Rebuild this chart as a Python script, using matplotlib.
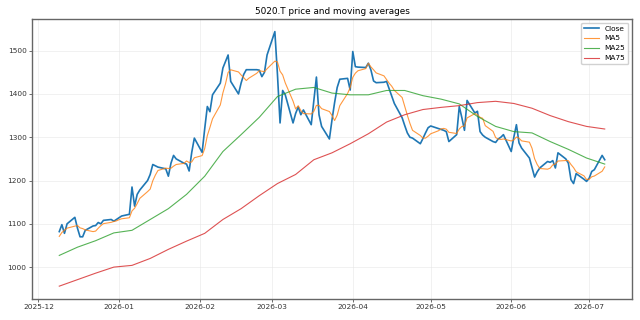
import matplotlib
matplotlib.use("Agg")
import matplotlib.pyplot as plt
import matplotlib.dates as mdates
import pandas as pd

# Daily closes, business days 2025-12-09 .. 2026-07-07
close_dec = [1082, 1098, 1078, 1100, 1115, 1090, 1070, 1070, 1085, 1095,
             1096, 1103, 1100, 1108, 1110, 1106, 1110]
close_jan = [1114, 1118, 1122, 1185, 1141, 1168, 1178, 1200, 1214, 1237,
             1234, 1231, 1227, 1210, 1240, 1258, 1250, 1240, 1238, 1222,
             1265, 1298]
close_feb = [1265, 1320, 1371, 1359, 1398, 1425, 1460, 1475, 1490, 1429,
             1400, 1425, 1445, 1456, 1456, 1456, 1455, 1440, 1450, 1490]
close_mar = [1544, 1445, 1333, 1408, 1398, 1333, 1355, 1370, 1352, 1363,
             1329, 1385, 1439, 1352, 1325, 1296, 1340, 1380, 1415, 1434,
             1436, 1409]
close_apr = [1498, 1463, 1462, 1461, 1471, 1455, 1430, 1426, 1427, 1429,
             1412, 1395, 1378, 1345, 1327, 1310, 1300, 1298, 1285, 1297,
             1310, 1322]
close_may = [1326, 1320, 1318, 1316, 1313, 1290, 1306, 1371, 1345, 1316,
             1385, 1356, 1360, 1313, 1305, 1300, 1290, 1288, 1296, 1300,
             1306]
close_jun = [1267, 1300, 1329, 1287, 1275, 1252, 1230, 1208, 1220, 1229,
             1244, 1242, 1246, 1229, 1264, 1250, 1240, 1202, 1193, 1216,
             1203, 1198]
close_jul = [1205, 1221, 1225, 1258, 1248]

# MA5 for the first four days (earlier closes are not shown on the chart)
ma5_head = [1071, 1080, 1085, 1090]

# MA25 / MA75 read every 5th trading day
ma25 = [1027, 1046, 1061, 1079, 1085, 1110, 1135, 1168, 1210, 1267,
        1306, 1346, 1394, 1411, 1415, 1402, 1398, 1398, 1408, 1408,
        1396, 1388, 1377, 1348, 1325, 1313, 1310, 1290, 1272, 1252,
        1238]
ma75 = [956, 971, 986, 1000, 1004, 1020, 1041, 1060, 1078, 1110,
        1135, 1165, 1193, 1214, 1248, 1264, 1285, 1308, 1335, 1352,
        1364, 1369, 1373, 1380, 1383, 1378, 1367, 1350, 1336, 1325,
        1319]

dates = pd.bdate_range("2025-12-09", "2026-07-07")
close = pd.Series(close_dec + close_jan + close_feb + close_mar + close_apr
                  + close_may + close_jun + close_jul, index=dates, dtype=float)
ma5 = close.rolling(5).mean()
ma5.iloc[:4] = ma5_head
ma_dates = dates[::5]

fig = plt.figure(figsize=(6.4, 3.2), dpi=100)
ax = fig.add_axes([0.05, 0.066, 0.9375, 0.875])

ax.plot(dates, close, color="#1f77b4", lw=1.2, label="Close")
ax.plot(dates, ma5, color="#ff7f0e", lw=0.8, alpha=0.8, label="MA5")
ax.plot(ma_dates, ma25, color="#2ca02c", lw=0.8, alpha=0.8, label="MA25")
ax.plot(ma_dates, ma75, color="#d62728", lw=0.8, alpha=0.8, label="MA75")

ax.set_title("5020.T price and moving averages", fontsize=6.4, pad=3.2)
ax.xaxis.set_major_locator(mdates.MonthLocator())
ax.xaxis.set_major_formatter(mdates.DateFormatter("%Y-%m"))
ax.set_yticks([1000, 1100, 1200, 1300, 1400, 1500])
ax.tick_params(labelsize=5.3, colors="#333333", length=1.9, width=0.5, pad=2)
ax.grid(True, color="#e6e6e6", lw=0.5, alpha=0.8)
for sp in ax.spines.values():
    sp.set_color("#666666")
    sp.set_linewidth(1.0)
ax.legend(loc="upper right", fontsize=5.3, framealpha=0.9)

fig.savefig("out.png", dpi=100)
plt.close(fig)
